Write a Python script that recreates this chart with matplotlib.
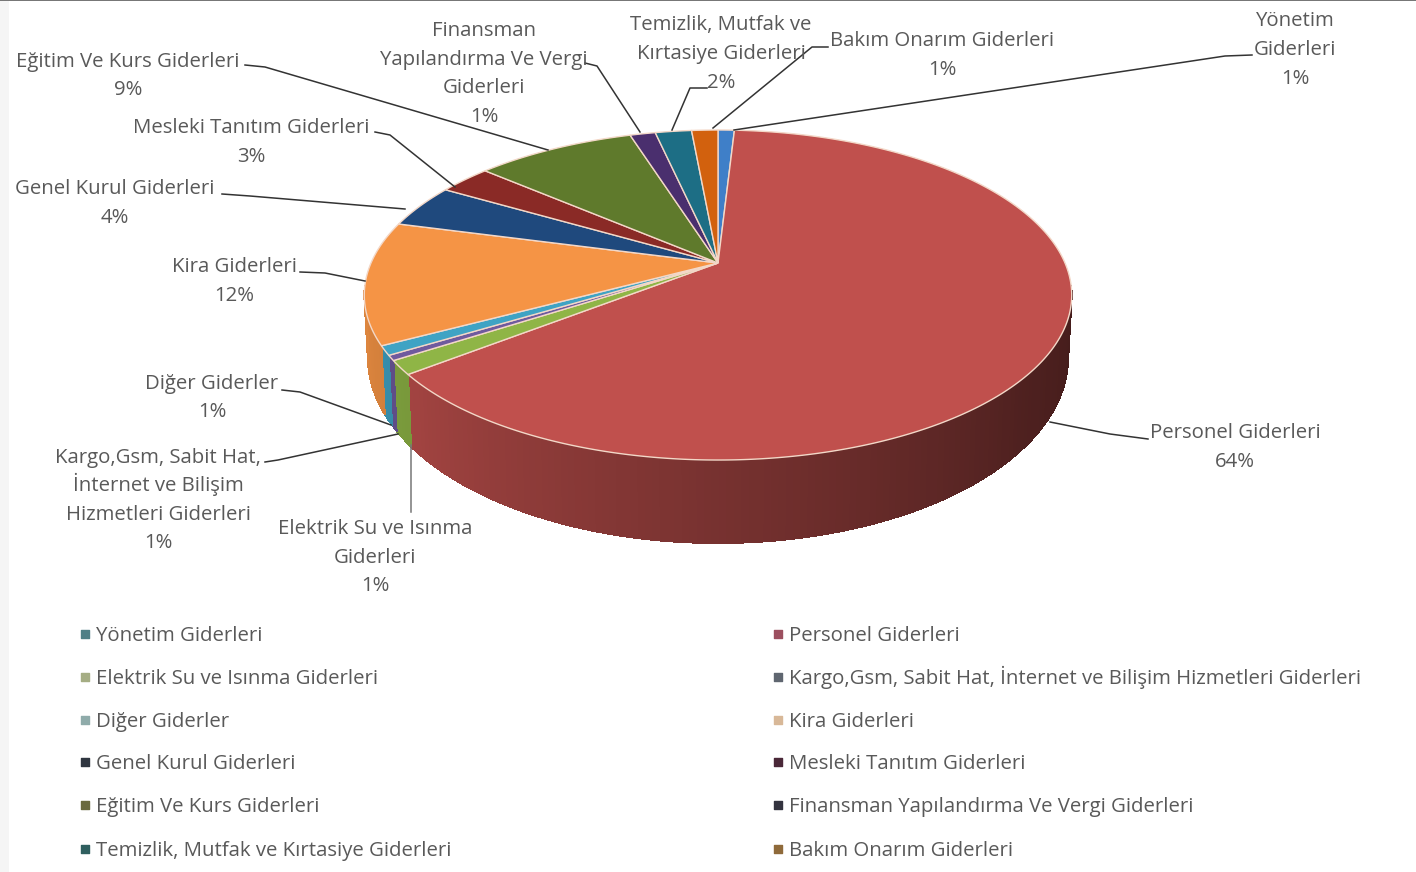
import matplotlib
matplotlib.use("Agg")
import matplotlib.pyplot as plt
import numpy as np

plt.rcParams['font.family'] = ['Open Sans', 'DejaVu Sans']

# slices, clockwise from the top of the pie
categories = ["Yönetim Giderleri", "Personel Giderleri", "Elektrik Su ve Isınma Giderleri",
              "Kargo,Gsm, Sabit Hat, İnternet ve Bilişim Hizmetleri Giderleri", "Diğer Giderler",
              "Kira Giderleri", "Genel Kurul Giderleri", "Mesleki Tanıtım Giderleri",
              "Eğitim Ve Kurs Giderleri", "Finansman Yapılandırma Ve Vergi Giderleri",
              "Temizlik, Mutfak ve Kırtasiye Giderleri", "Bakım Onarım Giderleri"]
values = [0.9, 63.5, 1.35, 0.5, 0.9, 12.0, 4.3, 2.9, 8.8, 1.4, 2.0, 1.45]
percent_labels = ["1%", "64%", "1%", "1%", "1%", "12%", "4%", "3%", "9%", "1%", "2%", "1%"]

colors = ["#3f7fc8", "#c0504d", "#8fb546", "#6f5a9e", "#3fa3c4", "#f59445",
          "#1f497d", "#8a2a26", "#5f7a2c", "#4a2f6e", "#1d6e85", "#d2610e"]
legend_colors = ["#4f7f86", "#9c4f5f", "#a5ad84", "#5f6670", "#8fabaa", "#d8b898",
                 "#2f3640", "#4a2838", "#6a6a40", "#33333f", "#2f5f5f", "#8f6a3a"]

# wrapped text of the data labels
label_lines = [["Yönetim", "Giderleri"], ["Personel Giderleri"], ["Elektrik Su ve Isınma", "Giderleri"],
               ["Kargo,Gsm, Sabit Hat,", "İnternet ve Bilişim", "Hizmetleri Giderleri"], ["Diğer Giderler"],
               ["Kira Giderleri"], ["Genel Kurul Giderleri"], ["Mesleki Tanıtım Giderleri"],
               ["Eğitim Ve Kurs Giderleri"], ["Finansman", "Yapılandırma Ve Vergi", "Giderleri"],
               ["Temizlik, Mutfak ve", "Kırtasiye Giderleri"], ["Bakım Onarım Giderleri"]]

# label layout in pixels: centre x, first line y, line step
label_pos = [(1295, 19, 29), (1235, 431, 29), (375, 527, 28.5), (158, 456, 28.3), (212, 382, 28),
             (234, 265, 29), (115, 187, 29), (251, 126, 29), (128, 60, 28), (484, 29, 28.5),
             (721, 23, 29), (942, 39, 29)]
leaders = [[(1252, 55), (1225, 56), (734, 130)], [(1148, 439), (1110, 434), (1050, 422)],
           [(411, 512), (411, 445)], [(265, 462), (278, 460), (398, 434)],
           [(282, 390), (300, 392), (391, 425)], [(300, 272), (325, 273), (365, 281)],
           [(222, 194), (250, 196), (405, 209)], [(375, 132), (390, 135), (455, 187)],
           [(245, 65), (265, 67), (548, 150)], [(585, 63), (597, 66), (640, 132)],
           [(707, 88), (690, 88), (672, 130)], [(828, 47), (812, 47), (713, 128)]]

legend_x = [85, 778]
legend_y = [634, 677, 720, 762, 805, 849]

text_color = "#595959"
font_size = 14.7


# perspective view of the pie disc, theta in degrees clockwise from the back
def project(theta, level):
    t = np.radians(theta)
    u, v = np.sin(t), -np.cos(t)
    d = 1 - 0.194 * v
    if level == "top":
        return 718 + 347 * u / d, 263 + 158.8 * v / d
    return 718 + 343.5 * u / d, 321 + 179 * v / d


def wall_shade(theta):
    return np.interp(theta, [90, 130, 180, 230, 270], [0.33, 0.41, 0.62, 0.84, 0.92])


fig = plt.figure(figsize=(14.16, 8.72), dpi=100)
ax = fig.add_axes([0, 0, 1, 1])
ax.set_xlim(0, 1416)
ax.set_ylim(872, 0)
ax.axis("off")

# scan edges of the source picture
ax.axvspan(0, 9, color="#f5f5f5", lw=0)
ax.axhspan(0, 1.5, color="#777777", lw=0)

edges = np.concatenate([[0], np.cumsum(values)]) / sum(values) * 360

# side wall first, the top surface covers what should be hidden
for i in range(len(values)):
    a0, a1 = max(edges[i], 98), min(edges[i + 1], 262)
    if a1 <= a0:
        continue
    steps = np.arange(a0, a1 + 1, 1.0)
    steps = np.append(steps[steps < a1], a1)
    base = np.array(matplotlib.colors.to_rgb(colors[i]))
    for s0, s1 in zip(steps[:-1], steps[1:]):
        x0, y0 = project(s0, "top")
        x1, y1 = project(s1, "top")
        x2, y2 = project(s1, "bottom")
        x3, y3 = project(s0, "bottom")
        c = base * wall_shade((s0 + s1) / 2)
        ax.fill([x0, x1, x2, x3], [y0, y1, y2, y3], color=c, lw=0.6, antialiased=False, zorder=2)

# top surface
for i in range(len(values)):
    theta = np.linspace(edges[i], edges[i + 1], max(int(edges[i + 1] - edges[i]) * 2, 4))
    x, y = project(theta, "top")
    ax.fill(np.concatenate([[718], x]), np.concatenate([[263], y]), facecolor=colors[i],
            edgecolor="#f3d8c8", lw=1.0, zorder=3)

# data labels and leader lines
for i, lines in enumerate(label_lines):
    cx, y0, step = label_pos[i]
    for j, line in enumerate(lines + [percent_labels[i]]):
        ax.text(cx, y0 + j * step + 7, line, ha="center", va="baseline", fontsize=font_size, color=text_color, zorder=6)
    px, py = zip(*leaders[i])
    lc = "#777777" if i == 2 else "#333333"
    ax.plot(px, py, color=lc, lw=1.1, zorder=5)

# legend, filled row by row in two columns
for i, name in enumerate(categories):
    row, col = i // 2, i % 2
    ax.scatter(legend_x[col], legend_y[row], marker="s", s=26, color=legend_colors[i], zorder=6)
    ax.text(legend_x[col] + 11, legend_y[row] + 7, name, ha="left", va="baseline", fontsize=font_size, color=text_color)

fig.savefig("out.png", dpi=100)
